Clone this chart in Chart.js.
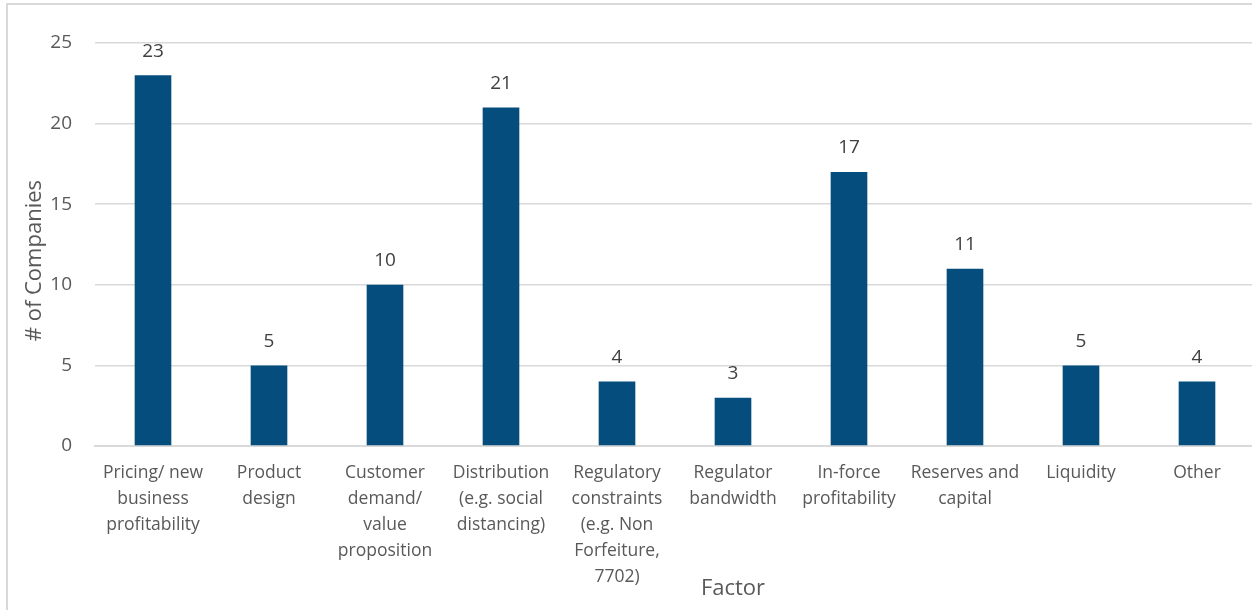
<!DOCTYPE html>
<html>
<head>
<meta charset="utf-8">
<script src="https://cdn.jsdelivr.net/npm/chart.js@4"></script>
<style>
  html, body { margin: 0; padding: 0; background: #fff; overflow: hidden; }
  #wrap { position: relative; width: 1252px; height: 610px; overflow: hidden; }
  #frameTop { position: absolute; left: 6px; top: 3px; width: 1260px; height: 2px; background: #d9d9d9; }
  #frameLeft { position: absolute; left: 6px; top: 3px; width: 2px; height: 620px; background: #d9d9d9; }
  canvas { position: absolute; left: 0; top: 0; }
</style>
</head>
<body>
<div id="wrap">
  <canvas id="c" width="1260" height="610"></canvas>
  <div id="frameTop"></div>
  <div id="frameLeft"></div>
</div>
<script>
const categories = [
  ["Pricing/ new", "business", "profitability"],
  ["Product", "design"],
  ["Customer", "demand/", "value", "proposition"],
  ["Distribution", "(e.g. social", "distancing)"],
  ["Regulatory", "constraints", "(e.g. Non", "Forfeiture,", "7702)"],
  ["Regulator", "bandwidth"],
  ["In-force", "profitability"],
  ["Reserves and", "capital"],
  ["Liquidity"],
  ["Other"]
];
const companies = [23, 5, 10, 21, 4, 3, 17, 11, 5, 4];
const yTicks = [0, 5, 10, 15, 20, 25];
const yTitle = "# of Companies";
const xTitle = "Factor";

const FONT = "'Open Sans', 'Noto Sans', sans-serif";
const TEXT = "#595959";

const labelsPlugin = {
  id: 'valueLabels',
  afterDatasetsDraw(chart) {
    const ctx = chart.ctx;
    const meta = chart.getDatasetMeta(0);
    ctx.save();
    ctx.font = "19px " + FONT;
    ctx.fillStyle = "#404040";
    ctx.textAlign = "center";
    ctx.textBaseline = "middle";
    meta.data.forEach((bar, i) => {
      ctx.fillText(String(chart.data.datasets[0].data[i]), bar.x, bar.y - 24);
    });
    ctx.restore();
  }
};

const titlesPlugin = {
  id: 'axisTitles',
  afterDraw(chart) {
    const ctx = chart.ctx;
    const a = chart.chartArea;
    ctx.save();
    ctx.font = "22px " + FONT;
    ctx.fillStyle = TEXT;
    ctx.textAlign = "center";
    ctx.textBaseline = "middle";
    ctx.fillText(xTitle, a.left + (a.right - a.left) * 0.55, 589);
    ctx.translate(35, a.top + (a.bottom - a.top) * 0.54);
    ctx.rotate(-Math.PI / 2);
    ctx.fillText(yTitle, 0, 0);
    ctx.restore();
  }
};

new Chart(document.getElementById('c'), {
  type: 'bar',
  data: {
    labels: categories,
    datasets: [{
      data: companies,
      backgroundColor: '#044D7C',
      borderWidth: 0,
      barPercentage: 0.316,
      categoryPercentage: 1.0
    }]
  },
  options: {
    responsive: false,
    animation: false,
    devicePixelRatio: 1,
    layout: { padding: { top: 43, right: 5, bottom: 0, left: 0 } },
    plugins: { legend: { display: false }, tooltip: { enabled: false } },
    scales: {
      x: {
        grid: { display: false, drawTicks: false },
        border: { display: true, color: '#d9d9d9', width: 2 },
        ticks: {
          color: TEXT,
          font: { family: FONT, size: 17.5, lineHeight: 1.49 },
          padding: 14,
          maxRotation: 0,
          autoSkip: false
        },
        afterFit(scale) { scale.height = 164; }
      },
      y: {
        min: 0, max: 25,
        afterBuildTicks(scale) { scale.ticks = yTicks.map(v => ({ value: v })); },
        grid: { color: '#d9d9d9', lineWidth: 1.5, drawTicks: false },
        border: { display: false },
        ticks: {
          color: TEXT,
          font: { family: FONT, size: 19 },
          padding: 23
        },
        afterFit(scale) { scale.width = 95; }
      }
    }
  },
  plugins: [labelsPlugin, titlesPlugin]
});
</script>
</body>
</html>
